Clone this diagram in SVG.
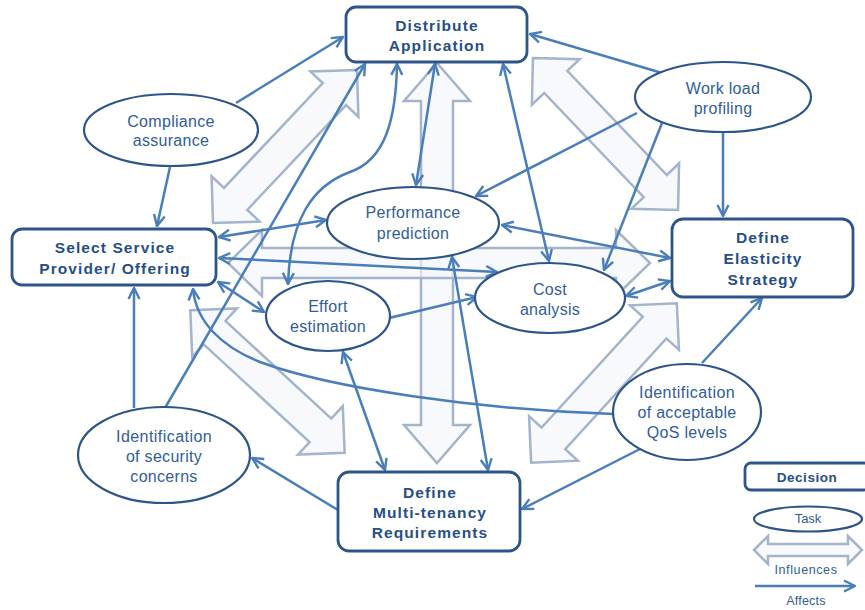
<svg xmlns="http://www.w3.org/2000/svg" width="865" height="610" viewBox="0 0 865 610">
<defs>
<style>
.inf { fill: #F2F6FB; fill-opacity: 0.65; stroke: #A3B4CB; stroke-width: 2.5; stroke-linejoin: miter; }
.aff { fill: none; stroke: #4A7EBB; stroke-width: 2.5; }
.dec rect { fill: #FFFFFF; stroke: #2E5589; stroke-width: 2.8; }
.task ellipse { fill: #FFFFFF; stroke: #2E5589; stroke-width: 2.2; }
.dt { font-family: "Liberation Sans", Arial, sans-serif; font-weight: bold; font-size: 15.5px; fill: #274E86; text-anchor: middle; letter-spacing: 1.1px; }
.tt { font-family: "Liberation Sans", Arial, sans-serif; font-size: 16px; fill: #315D98; text-anchor: middle; letter-spacing: 0.3px; }
</style>
<marker id="ah" viewBox="0 0 14 14" refX="13" refY="7" markerWidth="14" markerHeight="14" markerUnits="userSpaceOnUse" orient="auto-start-reverse">
<path d="M2,1.5 L13,7 L2,12.5" fill="none" stroke="#4A7EBB" stroke-width="2.4"/>
</marker>
</defs>
<rect width="865" height="610" fill="#FFFFFF"/>

<g id="influences">
<polygon class="inf" transform="translate(437,263) rotate(90)" points="-200,0 -162,-33 -162,-16 162,-16 162,-33 200,0 162,33 162,16 -162,16 -162,33"/>
<polygon class="inf" transform="translate(439,263)" points="-211,0 -177,-33 -177,-15 177,-15 177,-33 211,0 177,33 177,15 -177,15 -177,33"/>
<polygon class="inf" transform="translate(285,146.5) rotate(-46.7)" points="-105,0 -72,-33 -72,-16 72,-16 72,-33 105,0 72,33 72,16 -72,16 -72,33"/>
<polygon class="inf" transform="translate(605.5,134) rotate(46.3)" points="-105,0 -72,-33 -72,-16 72,-16 72,-33 105,0 72,33 72,16 -72,16 -72,33"/>
<polygon class="inf" transform="translate(267.5,381.5) rotate(42.7)" points="-105,0 -72,-33 -72,-16 72,-16 72,-33 105,0 72,33 72,16 -72,16 -72,33"/>
<polygon class="inf" transform="translate(604,383) rotate(132.4)" points="-108,0 -75,-33 -75,-16 75,-16 75,-33 108,0 75,33 75,16 -75,16 -75,33"/>
</g>

<g id="connectors">
<path class="aff" d="M236,103 L343,37" marker-end="url(#ah)"/>
<path class="aff" d="M170,167 L157,226" marker-end="url(#ah)"/>
<path class="aff" d="M662,73 L530,34" marker-end="url(#ah)"/>
<path class="aff" d="M637,113 L476,196" marker-end="url(#ah)"/>
<path class="aff" d="M662,123 L604,270" marker-end="url(#ah)"/>
<path class="aff" d="M723,133 L723,216" marker-end="url(#ah)"/>
<path class="aff" d="M435,64 L416,185" marker-start="url(#ah)" marker-end="url(#ah)"/>
<path class="aff" d="M503,64 L549,261" marker-start="url(#ah)" marker-end="url(#ah)"/>
<path class="aff" d="M165,408 L365,64" marker-end="url(#ah)"/>
<path class="aff" d="M288,284 C290,220 312,186 350,172 C385,160 396,120 397,64" marker-start="url(#ah)" marker-end="url(#ah)"/>
<path class="aff" d="M326,220 L219,237" marker-start="url(#ah)" marker-end="url(#ah)"/>
<path class="aff" d="M219,258 L497,272" marker-start="url(#ah)" marker-end="url(#ah)"/>
<path class="aff" d="M502,225 L670,258" marker-start="url(#ah)" marker-end="url(#ah)"/>
<path class="aff" d="M626,296 L670,281" marker-start="url(#ah)" marker-end="url(#ah)"/>
<path class="aff" d="M218,282 L264,312" marker-start="url(#ah)" marker-end="url(#ah)"/>
<path class="aff" d="M389,318 L477,297" marker-end="url(#ah)"/>
<path class="aff" d="M343,352 L385,470" marker-start="url(#ah)" marker-end="url(#ah)"/>
<path class="aff" d="M452,257 L488,470" marker-start="url(#ah)" marker-end="url(#ah)"/>
<path class="aff" d="M134,408 L134,288" marker-end="url(#ah)"/>
<path class="aff" d="M338,510 L252,458" marker-end="url(#ah)"/>
<path class="aff" d="M640,449 L522,509" marker-end="url(#ah)"/>
<path class="aff" d="M702,363 L762,298" marker-end="url(#ah)"/>
<path class="aff" d="M614,414 C480,410 330,388 260,362 C222,347 196,322 193,289" marker-end="url(#ah)"/>
</g>

<g id="distribute-application" class="dec">
<rect x="346" y="7" width="181" height="55" rx="10"/>
<text class="dt" x="437" y="31">Distribute</text>
<text class="dt" x="437" y="51">Application</text>
</g>
<g id="select-service" class="dec">
<rect x="12" y="229" width="204" height="56" rx="10"/>
<text class="dt" x="115" y="253">Select Service</text>
<text class="dt" x="115" y="274">Provider/ Offering</text>
</g>
<g id="define-elasticity" class="dec">
<rect x="672" y="219" width="181" height="78" rx="11"/>
<text class="dt" x="763" y="243">Define</text>
<text class="dt" x="763" y="264">Elasticity</text>
<text class="dt" x="763" y="285">Strategy</text>
</g>
<g id="define-multitenancy" class="dec">
<rect x="338" y="472" width="182" height="79" rx="11"/>
<text class="dt" x="430" y="498">Define</text>
<text class="dt" x="430" y="518">Multi-tenancy</text>
<text class="dt" x="430" y="538">Requirements</text>
</g>

<g id="compliance-assurance" class="task">
<ellipse cx="171" cy="130" rx="87" ry="36"/>
<text class="tt" x="171" y="127">Compliance</text>
<text class="tt" x="171" y="146">assurance</text>
</g>
<g id="workload-profiling" class="task">
<ellipse cx="723" cy="97" rx="88" ry="35"/>
<text class="tt" x="723" y="94">Work load</text>
<text class="tt" x="723" y="114">profiling</text>
</g>
<g id="performance-prediction" class="task">
<ellipse cx="413" cy="223" rx="86" ry="36"/>
<text class="tt" x="413" y="218">Performance</text>
<text class="tt" x="413" y="239">prediction</text>
</g>
<g id="effort-estimation" class="task">
<ellipse cx="328" cy="316" rx="62" ry="35"/>
<text class="tt" x="328" y="312">Effort</text>
<text class="tt" x="328" y="332">estimation</text>
</g>
<g id="cost-analysis" class="task">
<ellipse cx="550" cy="298" rx="75" ry="35"/>
<text class="tt" x="550" y="295">Cost</text>
<text class="tt" x="550" y="315">analysis</text>
</g>
<g id="qos-levels" class="task">
<ellipse cx="687" cy="412" rx="74" ry="48"/>
<text class="tt" x="687" y="398" textLength="96" lengthAdjust="spacing">Identification</text>
<text class="tt" x="687" y="418">of acceptable</text>
<text class="tt" x="687" y="438">QoS levels</text>
</g>
<g id="security-concerns" class="task">
<ellipse cx="164" cy="455" rx="86" ry="48"/>
<text class="tt" x="164" y="442" textLength="96" lengthAdjust="spacing">Identification</text>
<text class="tt" x="164" y="462">of security</text>
<text class="tt" x="164" y="482">concerns</text>
</g>

<g id="legend">
<g id="legend-decision" class="dec">
<rect x="745" y="463" width="125" height="27" rx="6"/>
<text class="dt" x="807" y="482" style="font-size:13.5px;letter-spacing:0.5px">Decision</text>
</g>
<g id="legend-task" class="task">
<ellipse cx="808" cy="519" rx="54" ry="12.5"/>
<text class="tt" x="808" y="523" style="font-size:13px;letter-spacing:0">Task</text>
</g>
<polygon class="inf" transform="translate(808,550)" points="-54,0 -40,-14 -40,-6 40,-6 40,-14 54,0 40,14 40,6 -40,6 -40,14"/>
<text class="tt" x="806" y="574" style="font-size:12.5px;letter-spacing:0.6px">Influences</text>
<path class="aff" d="M755,586 L855,586" marker-end="url(#ah)"/>
<text class="tt" x="806" y="605" style="font-size:12.5px;letter-spacing:0.2px">Affects</text>
</g>
</svg>
